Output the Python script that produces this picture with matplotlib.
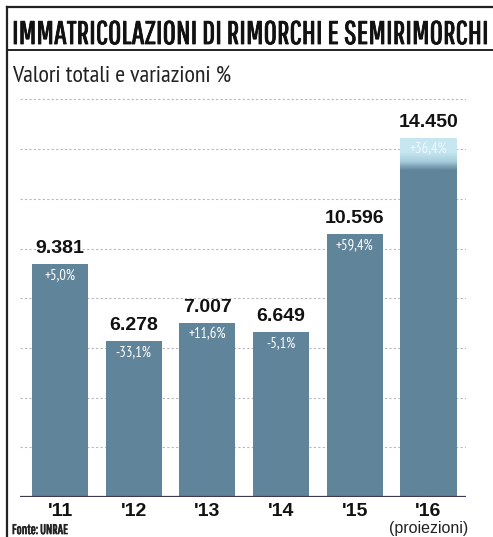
import matplotlib
matplotlib.use("Agg")
import matplotlib.pyplot as plt
import numpy as np
from matplotlib.lines import Line2D
from matplotlib.colors import LinearSegmentedColormap
from matplotlib import font_manager
import matplotlib.patheffects as pe

years = ["'11", "'12", "'13", "'14", "'15", "'16"]
values = [9381, 6278, 7007, 6649, 10596, 14450]
value_labels = ["9.381", "6.278", "7.007", "6.649", "10.596", "14.450"]
pct_labels = ["+5,0%", "-33,1%", "+11,6%", "-5,1%", "+59,4%", "+36,4%"]
grid_vals = [2000, 4000, 6000, 8000, 10000, 12000, 14000, 16000]

avail = {f.name for f in font_manager.fontManager.ttflist}

def pick(*cands):
    fams = [f for f in cands if f in avail]
    return fams + ["DejaVu Sans"]

title_font = pick("Pathway Gothic One", "League Gothic", "Oswald")
sub_font = pick("PT Sans Narrow", "Archivo Narrow", "Roboto Condensed")
bold_font = pick("Liberation Sans", "Arimo")
pct_font = pick("PT Sans Narrow", "Roboto Condensed", "Archivo Narrow")

W, H = 493, 537
fig = plt.figure(figsize=(W / 100, H / 100), dpi=100)
fig.patch.set_facecolor("white")
renderer = fig.canvas.get_renderer()

def fx(x):
    return x / W

def fy(y):
    return 1 - y / H

def fit_width(t, target_px):
    bb = t.get_window_extent(renderer=renderer)
    t.set_fontsize(t.get_fontsize() * target_px / bb.width)

# frame lines
fig.add_artist(Line2D([fx(7), fx(7)], [fy(7), fy(537)], color="#222222", lw=1.6, transform=fig.transFigure))
fig.add_artist(Line2D([fx(7), 1.0], [fy(7), fy(7)], color="#222222", lw=1.6, transform=fig.transFigure))
fig.add_artist(Line2D([fx(7), 1.0], [fy(50), fy(50)], color="#222222", lw=1.4, transform=fig.transFigure))

t1 = fig.text(fx(12), fy(44), "IMMATRICOLAZIONI DI RIMORCHI E SEMIRIMORCHI", family=title_font,
              fontsize=26, fontweight="bold", color="#111111", ha="left", va="baseline",
              path_effects=[pe.withStroke(linewidth=0.6, foreground="#111111")])
fit_width(t1, 476)
t2 = fig.text(fx(12), fy(83), "Valori totali e variazioni %", family=sub_font,
              fontsize=15, color="#222222", ha="left", va="baseline")
fit_width(t2, 220)

ax_left, ax_right, base_y = 20, 466, 497
scale = 0.02485
ymax = 16150
ax = fig.add_axes([fx(ax_left), 1 - base_y / H, (ax_right - ax_left) / W, ymax * scale / H])

for g in grid_vals:
    ax.axhline(g, color="#b8b8b8", lw=0.8, ls=(0, (2, 2)), zorder=0)

x = np.arange(len(years))
bar_color = "#60849a"
bars = ax.bar(x, values, width=0.76, color=bar_color, zorder=2)

# lighter projection top on the last bar
last = bars[-1]
cmap = LinearSegmentedColormap.from_list("p", [bar_color, "#a9cedd", "#c6e6f0"])
grad_vals = np.linspace(0, 1, 200)
mask = np.clip((grad_vals - 0.91) / 0.05, 0, 1)
im = ax.imshow(mask.reshape(-1, 1), extent=[x[-1] - 0.38, x[-1] + 0.38, 0, values[-1]], origin="lower",
               aspect="auto", cmap=cmap, vmin=0, vmax=1, zorder=3, interpolation="bilinear")
im.set_clip_path(last)
ax.set_xlim(-0.543, 5.509)
ax.set_ylim(0, ymax)

for i, (v, vl, pl) in enumerate(zip(values, value_labels, pct_labels)):
    ax.annotate(vl, (x[i], v), xytext=(0, 5), textcoords="offset points", ha="center", va="bottom",
                fontsize=14, fontweight="bold", family=bold_font, color="#111111", zorder=5)
    ax.annotate(pl, (x[i], v), xytext=(0, -3), textcoords="offset points", ha="center", va="top",
                fontsize=10.5, family=pct_font, color="white" if i < 5 else "#eef7fb", zorder=5)

ax.axhline(0, color="#3c3a55", lw=1.6, zorder=4)
for s in ax.spines.values():
    s.set_visible(False)
ax.set_yticks([])
ax.set_xticks(x)
ax.set_xticklabels(years, fontsize=14, fontweight="bold", family=bold_font, color="#111111")
ax.tick_params(axis="x", length=0, pad=4)

fig.text(fx(428.5), fy(533), "(proiezioni)", family=bold_font, fontsize=11.5, color="#222222",
         ha="center", va="baseline")
fig.text(fx(12), fy(534), "Fonte: UNRAE", family=title_font, fontsize=10, fontweight="bold",
         color="#222222", ha="left", va="baseline",
         path_effects=[pe.withStroke(linewidth=0.5, foreground="#222222")])

fig.savefig("out.png", dpi=100, facecolor="white")
